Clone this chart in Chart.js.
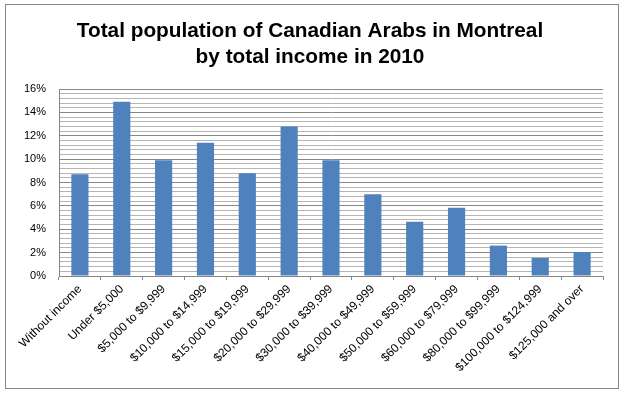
<!DOCTYPE html>
<html>
<head>
<meta charset="utf-8">
<script src="https://cdn.jsdelivr.net/npm/chart.js@4/dist/chart.umd.min.js"></script>
<style>
html,body{margin:0;padding:0;background:#fff;}
#wrap{position:absolute;left:0;top:0;width:626px;height:395px;}
</style>
</head>
<body>
<div id="wrap"><canvas id="c" width="626" height="395"></canvas></div>
<script>
const categories = ['Without income','Under $5,000','$5,000 to $9,999','$10,000 to $14,999','$15,000 to $19,999','$20,000 to $29,999','$30,000 to $39,999','$40,000 to $49,999','$50,000 to $59,999','$60,000 to $79,999','$80,000 to $99,999','$100,000 to $124,999','$125,000 and over'];
const values = [8.7, 14.9, 9.9, 11.4, 8.8, 12.8, 9.9, 7.0, 4.65, 5.85, 2.6, 1.55, 2.05];
const titleLines = ['Total population of Canadian Arabs in Montreal', 'by total income in 2010'];
const yMax = 16;
const majorStep = 2;
const minorStep = 0.4;

const isMajor = v => Math.abs(v / majorStep - Math.round(v / majorStep)) < 1e-6;

const borderPlugin = {
  id: 'outerBorder',
  afterDraw(chart) {
    const ctx = chart.ctx;
    ctx.save();
    ctx.strokeStyle = '#878787';
    ctx.lineWidth = 1;
    ctx.strokeRect(5.5, 4.5, 613, 384);
    ctx.restore();
  }
};

new Chart(document.getElementById('c'), {
  type: 'bar',
  data: {
    labels: categories,
    datasets: [{
      data: values,
      backgroundColor: '#4F81BD',
      borderWidth: 0,
      categoryPercentage: 1.0,
      barPercentage: 0.41
    }]
  },
  options: {
    responsive: false,
    animation: false,
    events: [],
    layout: { padding: { left: 0, right: 6, top: 0, bottom: 0 } },
    plugins: {
      legend: { display: false },
      tooltip: { enabled: false },
      title: {
        display: true,
        text: titleLines,
        color: '#000',
        font: { family: "'Liberation Sans', Arial, sans-serif", size: 20.8, weight: 'bold', lineHeight: 1.25 },
        padding: { top: 18, bottom: 19 }
      }
    },
    scales: {
      x: {
        grid: { drawOnChartArea: false, drawTicks: true, tickLength: 4, offset: true, color: '#878787' },
        border: { display: true, color: '#878787' },
        ticks: {
          color: '#000',
          font: { family: "'Liberation Sans', Arial, sans-serif", size: 12 },
          minRotation: 45, maxRotation: 45, autoSkip: false, padding: 2
        },
        afterFit(scale) { scale.height = 119; }
      },
      y: {
        min: 0, max: yMax,
        grid: {
          drawTicks: false,
          color: ctx => isMajor(ctx.tick.value) ? '#878787' : '#b5b5b5',
          lineWidth: 1
        },
        border: { display: true, color: '#878787' },
        ticks: {
          stepSize: minorStep,
          autoSkip: false,
          color: '#000',
          padding: 13,
          font: { family: "'Liberation Sans', Arial, sans-serif", size: 11 },
          callback: v => isMajor(v) ? Math.round(v) + '%' : ''
        },
        afterFit(scale) { scale.width = 59; }
      },
      ySpacer: {
        position: 'right',
        display: true,
        grid: { display: false, drawTicks: false },
        border: { display: false },
        ticks: { display: false },
        afterFit(scale) { scale.width = 17; }
      }
    }
  },
  plugins: [borderPlugin]
});
</script>
</body>
</html>
